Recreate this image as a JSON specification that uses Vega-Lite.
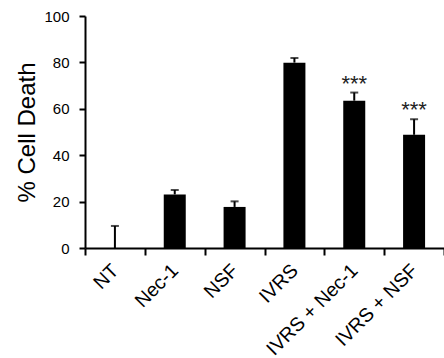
{
  "$schema": "https://vega.github.io/schema/vega-lite/v6.json",
  "width": 359,
  "height": 232,
  "autosize": {"type": "none"},
  "padding": {"left": 85, "top": 16, "right": 0, "bottom": 110},
  "background": "white",
  "config": {"view": {"stroke": null}, "font": "Liberation Sans"},
  "data": {
    "values": [
      {"group": "NT", "mean": 0, "upper": 9.5, "sig": ""},
      {"group": "Nec-1", "mean": 23.1, "upper": 25, "sig": ""},
      {"group": "NSF", "mean": 17.7, "upper": 20.1, "sig": ""},
      {"group": "IVRS", "mean": 79.9, "upper": 81.9, "sig": ""},
      {"group": "IVRS + Nec-1", "mean": 63.5, "upper": 67, "sig": "***"},
      {"group": "IVRS + NSF", "mean": 48.8, "upper": 55.5, "sig": "***"}
    ]
  },
  "encoding": {
    "x": {
      "field": "group",
      "type": "nominal",
      "sort": null,
      "scale": {"paddingInner": 0, "paddingOuter": 0},
      "axis": {
        "title": null,
        "tickBand": "extent",
        "domainColor": "black",
        "domainWidth": 2,
        "tickColor": "black",
        "tickWidth": 2,
        "tickSize": 7,
        "labelAngle": -45,
        "labelAlign": "right",
        "labelBaseline": "middle",
        "labelFontSize": 19.5,
        "labelColor": "black",
        "labelPadding": 12
      }
    }
  },
  "layer": [
    {
      "mark": {"type": "bar", "color": "black", "width": 22},
      "encoding": {
        "y": {
          "field": "mean",
          "type": "quantitative",
          "scale": {"domain": [0, 100], "nice": false},
          "axis": {
            "values": [0, 20, 40, 60, 80, 100],
            "grid": false,
            "domainColor": "black",
            "domainWidth": 2,
            "tickColor": "black",
            "tickWidth": 2,
            "tickSize": 6,
            "labelFontSize": 15,
            "labelColor": "black",
            "labelPadding": 10,
            "title": "% Cell Death",
            "titleFontSize": 24,
            "titleFontWeight": "normal",
            "titleColor": "black",
            "titlePadding": 4
          }
        }
      }
    },
    {
      "mark": {"type": "rule", "color": "black", "strokeWidth": 2},
      "encoding": {
        "y": {"field": "mean", "type": "quantitative"},
        "y2": {"field": "upper"}
      }
    },
    {
      "mark": {"type": "tick", "color": "black", "size": 8, "thickness": 2},
      "encoding": {
        "y": {"field": "upper", "type": "quantitative"}
      }
    },
    {
      "mark": {"type": "text", "fontSize": 22, "baseline": "alphabetic", "align": "center", "dy": -2, "color": "#222222"},
      "encoding": {
        "y": {"field": "upper", "type": "quantitative"},
        "text": {"field": "sig"}
      }
    }
  ]
}
